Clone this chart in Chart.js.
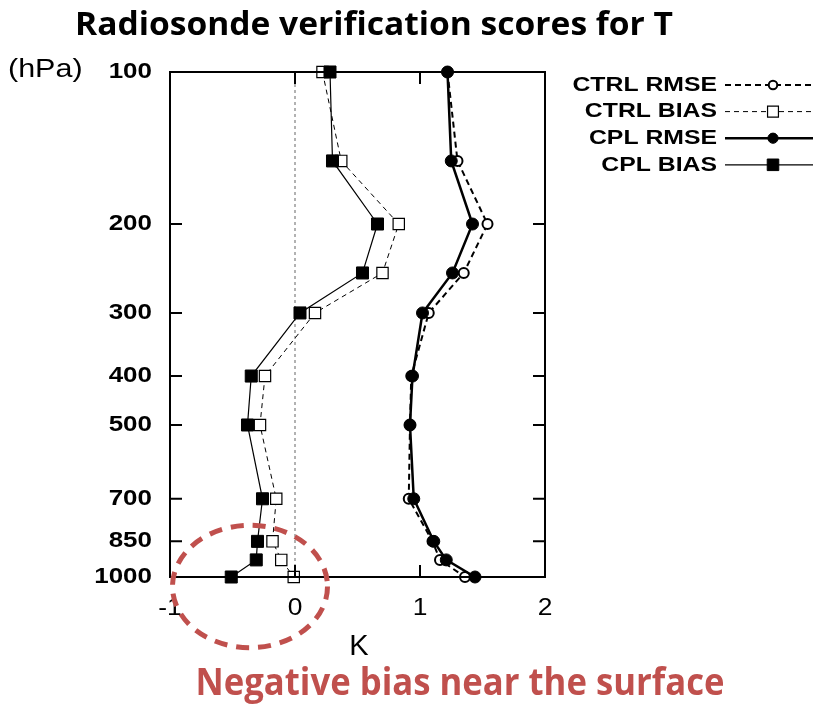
<!DOCTYPE html>
<html>
<head>
<meta charset="utf-8">
<script src="https://cdn.jsdelivr.net/npm/chart.js@4.4.1/dist/chart.umd.min.js"></script>
<style>
  body { margin: 0; background: #fff; }
  #wrap { width: 813px; height: 704px; }
</style>
</head>
<body>
<div id="wrap"><canvas id="verifChart" width="813" height="704"></canvas></div>
<script>
// pressure levels (hPa) and scores (K)
const levels = [100, 150, 200, 250, 300, 400, 500, 700, 850, 925, 1000];
const ctrlRmse = [1.22, 1.30, 1.54, 1.35, 1.07, 0.93, 0.92, 0.91, 1.10, 1.16, 1.36];
const ctrlBias = [0.22, 0.37, 0.83, 0.70, 0.16, -0.24, -0.28, -0.15, -0.18, -0.11, -0.01];
const cplRmse = [1.22, 1.25, 1.42, 1.26, 1.02, 0.94, 0.92, 0.95, 1.11, 1.21, 1.44];
const cplBias = [0.28, 0.30, 0.66, 0.54, 0.04, -0.35, -0.38, -0.26, -0.30, -0.31, -0.51];
const pressureTicks = [100, 200, 300, 400, 500, 700, 850, 1000];
const tempTicks = [-1, 0, 1, 2];
const seriesNames = ['CTRL RMSE', 'CTRL BIAS', 'CPL RMSE', 'CPL BIAS'];

const titleText = 'Radiosonde verification scores for T';
const noteText = 'Negative bias near the surface';
const noteColor = '#c0504d';

const sansFont = '"Liberation Sans", Arial, sans-serif';
const headFont = '"Open Sans", "Noto Sans", sans-serif';

function toPoints(values) {
    return values.map((v, i) => ({ x: v, y: levels[i] }));
}

// the original figure is a bit stretched sideways, so text is drawn with a horizontal scale
function wideText(ctx, text, x, y, font, align, sx) {
    ctx.save();
    ctx.font = font;
    ctx.textAlign = align;
    ctx.translate(x, y);
    ctx.scale(sx, 1);
    ctx.fillText(text, 0, 0);
    ctx.restore();
}

function fitText(ctx, text, cx, y, font, width) {
    ctx.save();
    ctx.font = font;
    const w = ctx.measureText(text).width;
    ctx.textAlign = 'center';
    ctx.translate(cx, y);
    ctx.scale(width / w, 1);
    ctx.fillText(text, 0, 0);
    ctx.restore();
}

function drawMarker(ctx, style, x, y, r, filled, lw) {
    ctx.save();
    ctx.setLineDash([]);
    ctx.lineWidth = lw;
    ctx.strokeStyle = '#000';
    ctx.fillStyle = filled ? '#000' : '#fff';
    ctx.beginPath();
    if (style === 'circle') {
        ctx.arc(x, y, r, 0, Math.PI * 2);
    } else {
        ctx.rect(x - r, y - r, r * 2, r * 2);
    }
    ctx.fill();
    ctx.stroke();
    ctx.restore();
}

const zeroLine = {
    id: 'zeroLine',
    beforeDatasetsDraw(chart) {
        const { ctx, chartArea, scales } = chart;
        const x0 = scales.x.getPixelForValue(0);
        ctx.save();
        ctx.strokeStyle = '#666';
        ctx.lineWidth = 1;
        ctx.setLineDash([3, 3]);
        ctx.beginPath();
        ctx.moveTo(x0, chartArea.top);
        ctx.lineTo(x0, chartArea.bottom);
        ctx.stroke();
        ctx.restore();
    }
};

const frameAndText = {
    id: 'frameAndText',
    afterDraw(chart) {
        const { ctx, chartArea, scales } = chart;
        const { left, right, top, bottom } = chartArea;
        const xs = scales.x, ys = scales.y;

        // box + inward ticks on all four sides
        ctx.save();
        ctx.strokeStyle = '#000';
        ctx.lineWidth = 2;
        ctx.strokeRect(left, top, right - left, bottom - top);
        ctx.beginPath();
        ys.ticks.forEach((t, i) => {
            const py = ys.getPixelForTick(i);
            ctx.moveTo(left, py); ctx.lineTo(left + 12, py);
            ctx.moveTo(right, py); ctx.lineTo(right - 12, py);
        });
        xs.ticks.forEach((t, i) => {
            const px = xs.getPixelForTick(i);
            ctx.moveTo(px, bottom); ctx.lineTo(px, bottom - 12);
            ctx.moveTo(px, top); ctx.lineTo(px, top + 12);
        });
        ctx.stroke();
        ctx.restore();

        ctx.save();
        ctx.fillStyle = '#000';
        ctx.textBaseline = 'middle';
        ys.ticks.forEach((t, i) => {
            wideText(ctx, String(t.value), left - 18, ys.getPixelForTick(i),
                'bold 22px ' + sansFont, 'right', 1.18);
        });
        xs.ticks.forEach((t, i) => {
            wideText(ctx, String(t.value), xs.getPixelForTick(i), bottom + 31,
                '24px ' + sansFont, 'center', 1.1);
        });
        ctx.textBaseline = 'alphabetic';
        wideText(ctx, '(hPa)', 8, 77, '25px ' + sansFont, 'left', 1.22);
        wideText(ctx, 'K', 359, bottom + 78, '29px ' + sansFont, 'center', 1.0);

        // title and note
        fitText(ctx, titleText, 374, 35, 'bold 33px ' + headFont, 598);
        ctx.fillStyle = noteColor;
        fitText(ctx, noteText, 460, 695, 'bold 38px ' + headFont, 529);
        ctx.restore();

        // legend: label, then line sample with marker
        ctx.save();
        chart.data.datasets.forEach((ds, i) => {
            const ly = 85 + i * 26.6;
            ctx.fillStyle = '#000';
            ctx.textBaseline = 'middle';
            wideText(ctx, ds.label, 717, ly, 'bold 21px ' + sansFont, 'right', 1.18);
            ctx.save();
            ctx.strokeStyle = '#000';
            ctx.lineWidth = ds.borderWidth;
            ctx.setLineDash(ds.borderDash || []);
            ctx.beginPath();
            ctx.moveTo(725, ly);
            ctx.lineTo(813, ly);
            ctx.stroke();
            ctx.restore();
            const r = ds.pointStyle === 'circle' ? ds.pointRadius * 0.85 : ds.pointRadius * 0.68;
            drawMarker(ctx, ds.pointStyle, 773, ly, r, ds.pointBackgroundColor === '#000', ds.pointBorderWidth);
        });
        ctx.restore();

        // red dashed ellipse around the lowest bias points
        const ex1 = xs.getPixelForValue(-0.98), ex2 = xs.getPixelForValue(0.26);
        const ey1 = ys.getPixelForValue(790), ey2 = ys.getPixelForValue(1380);
        ctx.save();
        ctx.strokeStyle = noteColor;
        ctx.lineWidth = 5;
        ctx.setLineDash([13, 9]);
        ctx.beginPath();
        ctx.ellipse((ex1 + ex2) / 2, (ey1 + ey2) / 2, (ex2 - ex1) / 2, (ey2 - ey1) / 2, 0, 0, Math.PI * 2);
        ctx.stroke();
        ctx.restore();
    }
};

const ctx = document.getElementById('verifChart').getContext('2d');
const verifChart = new Chart(ctx, {
    type: 'scatter',
    data: {
        datasets: [
            {
                label: seriesNames[0], data: toPoints(ctrlRmse), order: 1,
                showLine: true, borderColor: '#000', borderWidth: 2, borderDash: [6, 4],
                pointStyle: 'circle', pointRadius: 5, pointBackgroundColor: '#fff',
                pointBorderColor: '#000', pointBorderWidth: 2, clip: false
            },
            {
                label: seriesNames[1], data: toPoints(ctrlBias), order: 1,
                showLine: true, borderColor: '#000', borderWidth: 1, borderDash: [5, 4],
                pointStyle: 'rect', pointRadius: 8, pointBackgroundColor: '#fff',
                pointBorderColor: '#000', pointBorderWidth: 1.2, clip: false
            },
            {
                label: seriesNames[2], data: toPoints(cplRmse), order: 0,
                showLine: true, borderColor: '#000', borderWidth: 2.5,
                pointStyle: 'circle', pointRadius: 6, pointBackgroundColor: '#000',
                pointBorderColor: '#000', pointBorderWidth: 1, clip: false
            },
            {
                label: seriesNames[3], data: toPoints(cplBias), order: 0,
                showLine: true, borderColor: '#000', borderWidth: 1.2,
                pointStyle: 'rect', pointRadius: 8.5, pointBackgroundColor: '#000',
                pointBorderColor: '#000', pointBorderWidth: 1, clip: false
            }
        ]
    },
    options: {
        responsive: false,
        animation: false,
        events: [],
        layout: { padding: { left: 0, top: 72, right: 268, bottom: 0 } },
        plugins: {
            legend: { display: false },
            tooltip: { enabled: false },
            title: { display: false }
        },
        scales: {
            x: {
                type: 'linear', min: -1, max: 2,
                afterBuildTicks: s => { s.ticks = tempTicks.map(v => ({ value: v })); },
                afterFit: s => { s.height = 127; },
                ticks: { display: false },
                grid: { display: false },
                border: { display: false }
            },
            y: {
                type: 'logarithmic', reverse: true, min: 100, max: 1000,
                afterBuildTicks: s => { s.ticks = pressureTicks.map(v => ({ value: v })); },
                afterFit: s => { s.width = 170; },
                ticks: { display: false },
                grid: { display: false },
                border: { display: false }
            }
        }
    },
    plugins: [zeroLine, frameAndText]
});
</script>
</body>
</html>
